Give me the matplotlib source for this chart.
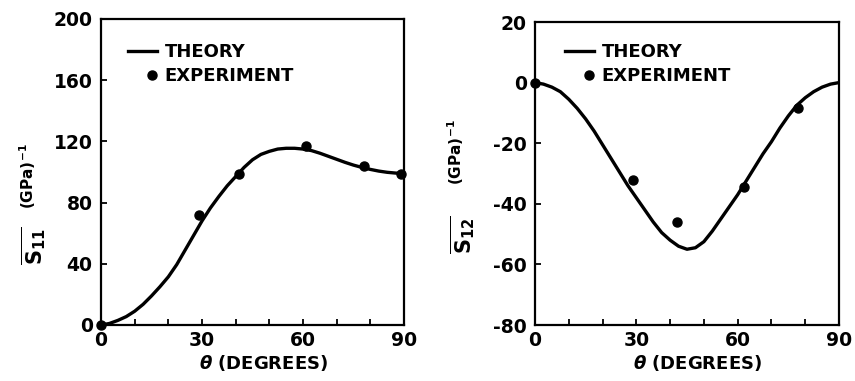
import matplotlib
matplotlib.use("Agg")
import matplotlib.pyplot as plt
from matplotlib.lines import Line2D
from matplotlib.legend_handler import HandlerLine2D

plt.rcParams['font.family'] = 'DejaVu Sans'
plt.rcParams['font.weight'] = 'bold'
plt.rcParams['mathtext.fontset'] = 'dejavusans'

# theory curves, read every 2.5 degrees
theta_theory = [0, 2.5, 5, 7.5, 10, 12.5, 15, 17.5, 20, 22.5,
                25, 27.5, 30, 32.5, 35, 37.5, 40, 42.5, 45, 47.5,
                50, 52.5, 55, 57.5, 60, 62.5, 65, 67.5, 70, 72.5,
                75, 77.5, 80, 82.5, 85, 87.5, 90]
s11_theory = [0, 1, 3, 5.5, 9, 13.5, 19, 25, 31.5, 39.5,
              49, 58.5, 68, 76.5, 84, 91, 97, 103, 108, 111.5,
              113.5, 115, 115.5, 115.5, 115, 114, 112.3, 110.3, 108.3, 106.3,
              104.5, 103, 101.7, 100.6, 99.8, 99.3, 99]
s12_theory = [0, -0.5, -1.5, -3, -5.5, -8.5, -12, -16, -20.5, -25,
              -29.5, -34, -38, -42, -46, -49.5, -52, -54, -55, -54.5,
              -52.5, -49, -45, -41, -37, -32.5, -28, -23.5, -19.5, -15,
              -11, -7.5, -5, -3, -1.5, -0.5, 0]

# measured points
theta_s11_exp = [0, 29, 41, 61, 78, 89]
s11_exp = [0, 72, 99, 117, 104, 98.5]
theta_s12_exp = [0, 29, 42, 62, 78]
s12_exp = [0, -32, -46, -34.5, -8.5]

x_ticks = [0, 30, 60, 90]
x_minor = [10, 20, 40, 50, 70, 80]
s11_ticks = [0, 40, 80, 120, 160, 200]
s12_ticks = [20, 0, -20, -40, -60, -80]

W, H = 855, 381


class DotAtRight(HandlerLine2D):
    # single legend marker drawn near the right end of the handle
    def get_xdata(self, legend, xdescent, ydescent, width, height, fontsize):
        return ([-xdescent + 0.62 * width, -xdescent + width],
                [-xdescent + 0.81 * width])


def px_axes(x0, y0, x1, y1):
    return [x0 / W, 1 - y1 / H, (x1 - x0) / W, (y1 - y0) / H]


def style_axes(ax, yticks, ylim, legend_anchor):
    ax.set_xlim(0, 90)
    ax.set_ylim(*ylim)
    ax.set_xticks(x_ticks)
    ax.set_xticks(x_minor, minor=True)
    ax.set_yticks(yticks)
    ax.set_xticklabels([str(t) for t in x_ticks])
    ax.set_yticklabels([str(t) for t in yticks])
    ax.tick_params(which='both', direction='in', length=4.5, width=1.3,
                   labelsize=13.5, pad=6)
    ax.tick_params(axis='x', pad=4)
    ax.tick_params(axis='y', left=True, right=False)
    ax.tick_params(axis='x', top=False)
    for sp in ax.spines.values():
        sp.set_linewidth(1.6)
    ax.set_xlabel(r'$\boldsymbol{\theta}$ (DEGREES)', fontsize=13,
                  fontweight='bold')
    ax.xaxis.set_label_coords(0.535, -0.092, transform=ax.transAxes)
    ax.xaxis.label.set_va('top')

    handles = [Line2D([], [], color='black', lw=2.4),
               Line2D([], [], color='black', marker='o', ls='none', ms=6.5)]
    ax.legend(handles, ['THEORY', 'EXPERIMENT'], loc='upper left',
              bbox_to_anchor=legend_anchor, frameon=False, fontsize=13,
              handlelength=1.6, handletextpad=0.4, labelspacing=0.32,
              borderpad=0, borderaxespad=0,
              handler_map={handles[1]: DotAtRight(numpoints=1)})


fig = plt.figure(figsize=(W / 100, H / 100), dpi=100)

ax1 = fig.add_axes(px_axes(101, 19, 404, 325))
ax1.plot(theta_theory, s11_theory, color='black', lw=2.4,
         solid_joinstyle='round')
ax1.plot(theta_s11_exp, s11_exp, 'o', color='black', ms=6.5, clip_on=False)
style_axes(ax1, s11_ticks, (0, 200), (0.09, 0.92))

ax2 = fig.add_axes(px_axes(535, 22, 839, 325))
ax2.plot(theta_theory, s12_theory, color='black', lw=2.4,
         solid_joinstyle='round')
ax2.plot(theta_s12_exp, s12_exp, 'o', color='black', ms=6.5, clip_on=False)
style_axes(ax2, s12_ticks, (-80, 20), (0.1, 0.93))

# y axis labels: compliance symbol and units, set separately
fig.text(34 / W, 1 - 246 / H, r'$\overline{\mathbf{S}_{\mathbf{11}}}$',
         rotation=90, ha='center', va='center', fontsize=15)
fig.text(28 / W, 1 - 176 / H, r'(GPa)$^{\mathbf{-1}}$',
         rotation=90, ha='center', va='center', fontsize=11,
         fontweight='bold')
fig.text(463 / W, 1 - 235 / H, r'$\overline{\mathbf{S}_{\mathbf{12}}}$',
         rotation=90, ha='center', va='center', fontsize=15)
fig.text(456 / W, 1 - 152 / H, r'(GPa)$^{\mathbf{-1}}$',
         rotation=90, ha='center', va='center', fontsize=11,
         fontweight='bold')

fig.savefig('out.png', dpi=100)
